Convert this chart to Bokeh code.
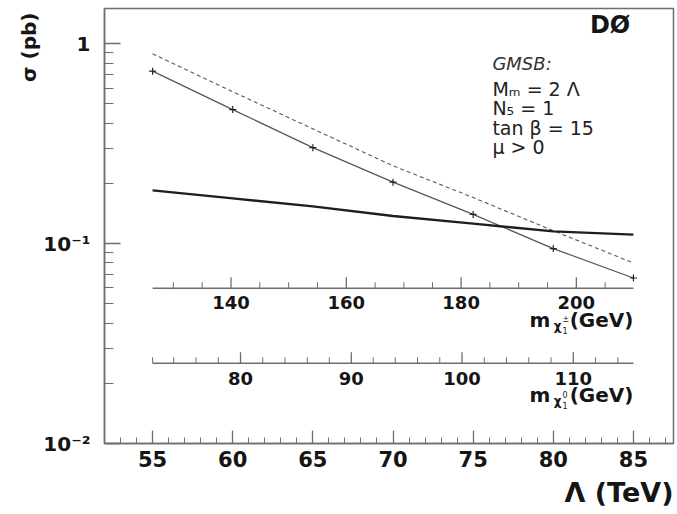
import numpy as np
from bokeh.plotting import figure
from bokeh.models import Range1d, FixedTicker, Label, ColumnDataSource, Title
from bokeh.core.properties import value
from bokeh.embed import file_html
from bokeh.resources import INLINE

# Messenger scale Lambda (TeV)
lam = [55, 60, 65, 70, 75, 80, 85]
# GMSB production cross section (pb): LO with markers, NLO dashed
sigma_lo = [0.729, 0.468, 0.302, 0.203, 0.140, 0.0944, 0.0673]
sigma_nlo = [0.89, 0.575, 0.375, 0.245, 0.170, 0.116, 0.080]
# 95% CL upper limit on the cross section (pb)
sigma_limit = [0.1846, 0.1684, 0.1536, 0.1374, 0.1258, 0.1151, 0.1109]
# Lightest chargino / neutralino masses (GeV) at the same Lambda values
m_chargino = [126.4, 140.3, 154.2, 168.1, 182.1, 196.0, 209.9]
m_neutralino = [72.1, 79.3, 86.5, 93.8, 101.0, 108.2, 115.4]

x_ticks = [55, 60, 65, 70, 75, 80, 85]
x_minor = [v for v in range(53, 88) if v % 5 != 0]
y_ticks = [0.01, 0.1, 1.0]
y_tick_labels = ["10⁻²", "10⁻¹", "1"]
y_minor = [k * 0.01 for k in range(2, 10)] + [k * 0.1 for k in range(2, 10)]
chargino_ticks = [140, 160, 180, 200]
chargino_minor = [v for v in range(130, 210, 5) if v % 20 != 0]
neutralino_ticks = [80, 90, 100, 110]
neutralino_minor = [72] + [v for v in range(74, 116, 2) if v % 10 != 0]

FONT = "DejaVu Sans"
AX = "#6e6e6e"
INK = "#151515"

X0, X1 = 52.0, 87.5
Y0, Y1 = 0.01, 1.5
W, H = 677, 514
B_L, B_R, B_T, B_B = 104, 4, 8, 71
px_per_decade = (H - B_T - B_B) / np.log10(Y1 / Y0)


def up(y, px):
    """Move a log-scale value up by px screen pixels."""
    return y * 10 ** (px / px_per_decade)


p = figure(width=W, height=H, x_range=Range1d(X0, X1), y_range=Range1d(Y0, Y1),
           y_axis_type="log", output_backend="svg", toolbar_location=None,
           min_border_left=B_L, min_border_right=B_R, min_border_top=B_T,
           min_border_bottom=B_B)
p.background_fill_color = "white"
p.border_fill_color = "white"
p.outline_line_color = AX
p.outline_line_width = 1.5
p.grid.visible = False

# main axes: ticks pointing into the frame
p.xaxis.ticker = FixedTicker(ticks=x_ticks, minor_ticks=x_minor)
p.yaxis.ticker = FixedTicker(ticks=y_ticks, minor_ticks=y_minor)
p.yaxis.major_label_overrides = {t: s for t, s in zip(y_ticks, y_tick_labels)}
for ax in (p.xaxis, p.yaxis):
    ax.axis_line_color = AX
    ax.axis_line_width = 1.5
    ax.major_tick_line_color = AX
    ax.minor_tick_line_color = AX
    ax.major_tick_line_width = 1.3
    ax.minor_tick_line_width = 1.0
    ax.major_tick_out = 0
    ax.minor_tick_out = 0
    ax.major_label_text_font = FONT
    ax.major_label_text_font_style = "bold"
    ax.major_label_text_color = INK
p.xaxis.major_tick_in = 13
p.xaxis.minor_tick_in = 6
p.xaxis.major_label_text_font_size = "21px"
p.xaxis.major_label_standoff = 7
p.yaxis.major_tick_in = 16
p.yaxis.minor_tick_in = 9
p.yaxis.major_label_text_font_size = "20px"
p.yaxis.major_label_standoff = 14

# axis titles placed in the side panels
p.add_layout(Title(text="Λ (TeV)", align="right", text_font=FONT, text_font_style="bold",
                   text_font_size="27px", text_color=INK, standoff=10, offset=0), "below")
p.add_layout(Title(text="σ (pb)", align="right", text_font=FONT, text_font_style="bold",
                   text_font_size="20px", text_color=INK, standoff=0, offset=4), "left")

src = ColumnDataSource(dict(lam=lam, lo=sigma_lo, nlo=sigma_nlo, lim=sigma_limit))
p.line("lam", "nlo", source=src, line_color="#5a5a5a", line_width=1.1, line_dash="4 3")
p.line("lam", "lo", source=src, line_color="#555555", line_width=1.2)
p.scatter("lam", "lo", source=src, marker="cross", size=7, line_color="#222222", line_width=1.2)
p.line("lam", "lim", source=src, line_color="#1e1e1e", line_width=2.4)


def mass_axis(masses, majors, minors, y_line, y_lab, sym, lab_y):
    to_lam = lambda m: np.interp(m, masses, lam)
    p.segment(x0=[lam[0]], y0=[y_line], x1=[lam[-1]], y1=[y_line], line_color=AX, line_width=1.5)
    xm = to_lam(majors)
    p.segment(x0=xm, y0=[y_line] * len(xm), x1=xm, y1=[up(y_line, 11)] * len(xm),
              line_color=AX, line_width=1.3)
    xn = to_lam(minors)
    p.segment(x0=xn, y0=[y_line] * len(xn), x1=xn, y1=[up(y_line, 6)] * len(xn),
              line_color=AX, line_width=1.0)
    p.text(x=xm, y=[y_lab] * len(xm), text=[str(v) for v in majors],
           text_font=value(FONT), text_font_style="bold", text_font_size="18px",
           text_align="center", text_baseline="middle", text_color=INK)
    xr = lam[-1]
    # "m" with a small chi subscript, then the unit
    pieces = [
        ("(GeV)", 0, 0, "20px"),
        ("χ", -72, 6, "12px"),
        ("m", -83, 0, "20px"),
    ]
    for txt, dx, dy, fs in pieces:
        p.add_layout(Label(x=xr, y=lab_y, x_offset=dx, y_offset=-dy, text=txt,
                           text_font=FONT, text_font_style="bold", text_font_size=fs,
                           text_align="right", text_baseline="middle", text_color=INK))
    p.add_layout(Label(x=xr, y=lab_y, x_offset=-71, y_offset=1, text=sym[0],
                       text_font=FONT, text_font_size="8px", text_align="left",
                       text_baseline="middle", text_color=INK))
    p.add_layout(Label(x=xr, y=lab_y, x_offset=-71, y_offset=-10, text=sym[1],
                       text_font=FONT, text_font_size="8px", text_align="left",
                       text_baseline="middle", text_color=INK))


mass_axis(m_chargino, chargino_ticks, chargino_minor, 0.0598, 0.0509, ("±", "1"), 0.0413)
mass_axis(m_neutralino, neutralino_ticks, neutralino_minor, 0.0252, 0.0212, ("0", "1"), 0.01744)

# experiment tag and model parameters
p.add_layout(Label(x=84.8, y=1.234, text="DØ", text_font=FONT, text_font_style="bold",
                   text_font_size="24px", text_align="right", text_baseline="middle",
                   text_color=INK))
p.add_layout(Label(x=76.2, y=0.797, text="GMSB:", text_font=FONT, text_font_style="italic",
                   text_font_size="18px", text_align="left", text_baseline="middle",
                   text_color="#333333"))
for txt, yv in [("Mₘ = 2 Λ", 0.591), ("N₅ = 1", 0.475), ("tan β = 15", 0.377), ("μ > 0", 0.303)]:
    p.add_layout(Label(x=76.2, y=yv, text=txt, text_font=FONT, text_font_size="19px",
                       text_align="left", text_baseline="middle", text_color="#222222"))

open("out.html", "w").write(file_html(p, INLINE))
